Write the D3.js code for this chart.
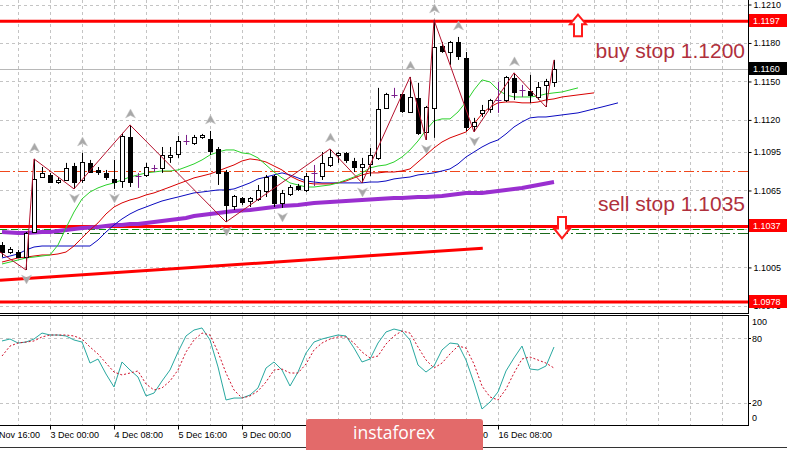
<!DOCTYPE html>
<html><head><meta charset="utf-8">
<script src="https://cdn.jsdelivr.net/npm/d3@7"></script>
<style>body{margin:0;background:#fff;} svg{display:block;}</style>
</head><body>
<script>
// ---------------- DATA ----------------
const openP = [1.10225,1.10170,1.10170,1.10131,1.10326,1.10755,1.10771,1.10716,1.10732,1.10841,
1.10732,1.10865,1.10810,1.10787,1.10740,1.10724,1.11067,1.10763,1.10771,1.10826,
1.10826,1.10911,1.10935,1.11036,1.11021,1.11067,1.11052,1.10974,1.10794,1.10529,
1.10592,1.10568,1.10584,1.10646,1.10763,1.10553,1.10623,1.10685,1.10654,1.10787,
1.10763,1.10849,1.10927,1.10943,1.10880,1.10833,1.10857,1.10904,1.11294,1.11395,
1.11403,1.11262,1.11372,1.11106,1.11294,1.11777,1.11730,1.11808,1.11684,1.11153,
1.11255,1.11286,1.11356,1.11356,1.11528,1.11434,1.11426,1.11379,1.11473,1.11496];
const highP = [1.10248,1.10209,1.10186,1.10326,1.10896,1.10833,1.10787,1.10755,1.10865,1.10865,
1.10943,1.10888,1.10833,1.10810,1.10888,1.11099,1.11161,1.10787,1.10865,1.10849,
1.10989,1.10989,1.11075,1.11083,1.11083,1.11091,1.11114,1.10989,1.10810,1.10615,
1.10599,1.10599,1.10693,1.10771,1.10771,1.10654,1.10693,1.10701,1.10787,1.10849,
1.10950,1.10974,1.10950,1.10950,1.10904,1.10904,1.10982,1.11450,1.11411,1.11450,
1.11411,1.11535,1.11489,1.11309,1.11980,1.11808,1.11816,1.11847,1.11730,1.11216,
1.11317,1.11364,1.11496,1.11543,1.11567,1.11473,1.11551,1.11496,1.11520,1.11668];
const lowP = [1.10131,1.10155,1.10124,1.10030,1.10319,1.10748,1.10709,1.10701,1.10724,1.10662,
1.10709,1.10787,1.10771,1.10732,1.10662,1.10670,1.10677,1.10670,1.10755,1.10794,
1.10787,1.10865,1.10904,1.11005,1.11005,1.11052,1.10927,1.10693,1.10404,1.10498,
1.10537,1.10521,1.10568,1.10599,1.10521,1.10514,1.10607,1.10646,1.10638,1.10685,
1.10732,1.10833,1.10865,1.10865,1.10794,1.10709,1.10763,1.10888,1.11286,1.11372,
1.11255,1.11255,1.11083,1.11044,1.11060,1.11723,1.11629,1.11668,1.11114,1.11106,
1.11223,1.11255,1.11255,1.11340,1.11356,1.11379,1.11333,1.11356,1.11301,1.11457];
const closeP = [1.10170,1.10194,1.10131,1.10319,1.10740,1.10787,1.10716,1.10732,1.10826,1.10716,
1.10872,1.10794,1.10794,1.10755,1.10716,1.11075,1.10716,1.10763,1.10833,1.10826,
1.10927,1.10927,1.11036,1.11036,1.11067,1.11083,1.10958,1.10787,1.10537,1.10607,
1.10560,1.10592,1.10654,1.10755,1.10553,1.10631,1.10677,1.10662,1.10763,1.10787,
1.10865,1.10911,1.10943,1.10888,1.10833,1.10857,1.10927,1.11286,1.11403,1.11395,
1.11270,1.11379,1.11099,1.11301,1.11769,1.11738,1.11808,1.11699,1.11145,1.11184,
1.11278,1.11356,1.11356,1.11535,1.11418,1.11434,1.11395,1.11457,1.11504,1.11600];

// Alligator (shifted forward): lips 3 bars, teeth 5 bars, jaw 8 bars
const lipsMA = [1.10077,1.10092,1.10108,1.10124,1.10131,1.10139,1.10147,1.10225,1.10358,1.10482,
1.10584,1.10638,1.10670,1.10693,1.10709,1.10732,1.10755,1.10771,1.10787,1.10794,
1.10802,1.10802,1.10810,1.10833,1.10857,1.10888,1.10927,1.10950,1.10966,1.10966,
1.10943,1.10935,1.10904,1.10849,1.10794,1.10748,1.10709,1.10693,1.10677,1.10677,
1.10685,1.10693,1.10709,1.10732,1.10755,1.10787,1.10826,1.10841,1.10849,1.10872,
1.10911,1.10966,1.11036,1.11122,1.11192,1.11208,1.11208,1.11262,1.11340,1.11434,
1.11512,1.11496,1.11434,1.11395,1.11379,1.11379,1.11379,1.11387,1.11403,1.11411,
1.11418,1.11434,1.11450];
const teethMA = [1.10092,1.10108,1.10124,1.10131,1.10139,1.10147,1.10147,1.10155,1.10170,1.10217,
1.10280,1.10342,1.10397,1.10467,1.10521,1.10553,1.10576,1.10592,1.10615,1.10631,
1.10654,1.10677,1.10701,1.10724,1.10748,1.10763,1.10779,1.10802,1.10826,1.10849,
1.10880,1.10896,1.10888,1.10872,1.10841,1.10810,1.10763,1.10732,1.10709,1.10701,
1.10701,1.10701,1.10709,1.10724,1.10748,1.10771,1.10787,1.10787,1.10794,1.10794,
1.10802,1.10818,1.10872,1.10927,1.10982,1.11028,1.11060,1.11083,1.11106,1.11169,
1.11247,1.11301,1.11333,1.11340,1.11340,1.11333,1.11333,1.11340,1.11356,1.11364,
1.11379,1.11387,1.11395,1.11403,1.11411];
const jawMA = [1.10124,1.10139,1.10155,1.10186,1.10209,1.10217,1.10217,1.10217,1.10217,1.10217,
1.10217,1.10217,1.10264,1.10326,1.10381,1.10428,1.10467,1.10498,1.10521,1.10545,
1.10568,1.10584,1.10599,1.10615,1.10631,1.10638,1.10646,1.10654,1.10654,1.10662,
1.10685,1.10709,1.10740,1.10755,1.10771,1.10787,1.10771,1.10748,1.10724,1.10716,
1.10709,1.10709,1.10709,1.10709,1.10709,1.10709,1.10716,1.10716,1.10724,1.10740,
1.10748,1.10755,1.10771,1.10779,1.10787,1.10802,1.10818,1.10857,1.10911,1.10950,
1.10989,1.11021,1.11044,1.11091,1.11145,1.11184,1.11216,1.11223,1.11223,1.11231,
1.11239,1.11247,1.11255,1.11270,1.11286,1.11301,1.11317,1.11333];
const slowMA = [1.10326,1.10322,1.10319,1.10319,1.10322,1.10326,1.10326,1.10334,1.10342,1.10350,
1.10358,1.10361,1.10365,1.10373,1.10381,1.10381,1.10389,1.10389,1.10397,1.10404,
1.10412,1.10420,1.10428,1.10436,1.10451,1.10459,1.10467,1.10475,1.10482,1.10490,
1.10494,1.10498,1.10506,1.10514,1.10521,1.10529,1.10533,1.10537,1.10545,1.10553,
1.10557,1.10560,1.10564,1.10568,1.10572,1.10576,1.10580,1.10584,1.10588,1.10592,
1.10592,1.10596,1.10599,1.10599,1.10603,1.10607,1.10615,1.10623,1.10631,1.10631,
1.10631,1.10638,1.10646,1.10654,1.10662,1.10670,1.10681,1.10693,1.10705,1.10716];

// ZigZag turning points: [bar index, price]
const zigzagPts = [[-0.25,1.10170],[3,1.10030],[4,1.10896],[9,1.10662],[16,1.11161],[28,1.10404],
[41,1.10974],[45,1.10709],[51,1.11535],[53,1.11044],[54,1.11980],[59,1.11106],[64,1.11567],[68,1.11301],[69,1.11668]];
const fractalUp = [4,10,16,26,41,51,54,57,64];
const fractalDown = [3,9,14,28,35,45,53,59];

// Stochastic
const stochMain = [77.6,79.4,75.7,76.6,79.4,84.9,83.1,83.1,82.2,78.5,
76.6,57.2,60.9,47.1,35.1,58.2,50.8,44.3,26.8,29.5,
40.6,50.8,67.4,82.2,87.7,89.6,78.5,53.6,23.1,24.9,
24.9,27.7,34.2,52.6,58.2,50.8,36.0,48.9,66.5,76.6,
79.4,81.3,83.1,82.2,71.1,58.2,60.9,75.7,85.9,88.6,
86.8,78.5,55.4,48.9,54.5,69.3,75.7,74.8,60.0,38.8,
14.8,21.2,30.5,49.9,61.9,72.9,51.7,50.8,54.5,72.0];
const stochSignal = [63.7,72.9,75.7,76.6,77.6,81.3,83.1,83.1,83.1,82.2,
79.4,72.0,65.6,57.2,48.9,46.2,48.0,49.9,37.9,32.3,
34.2,40.6,50.8,67.4,78.5,84.9,83.1,67.4,48.0,32.3,
24.9,26.8,31.4,39.7,50.8,51.7,48.0,48.0,56.3,69.3,
75.7,79.4,81.3,81.3,75.7,67.4,61.9,63.7,74.8,82.2,
86.8,84.9,72.0,60.0,52.6,57.2,65.6,72.9,71.1,56.3,
36.0,25.9,23.1,33.2,48.0,60.9,62.8,60.0,57.2,52.6];
const stochLevels = [80, 20];
const stochTickLabels = [100, 80, 20, 0];

// levels
const supportResistance = [1.1197, 1.1037, 1.0978];
const currentPrice = 1.1160;
const pivotLevel = 1.1080;
const orderLines = [1.1035, 1.1032];
const trendLine = [[-0.25, 1.0995], [60.1, 1.1020]];
const buyStopArrow = [72, 1.1197];
const sellStopArrow = [70, 1.1037];
const notes = ["buy stop 1.1200", "sell stop 1.1035"];

const priceTicks = [1.1210, 1.1180, 1.1150, 1.1120, 1.1095, 1.1065, 1.1035, 1.1005, 1.0975];
const timeTickIndex = [-2, 6, 14, 22, 30, 54, 62];
const timeTickLabels = ["29 Nov 16:00", "3 Dec 00:00", "4 Dec 08:00", "5 Dec 16:00", "9 Dec 00:00",
  "13 Dec 00:00", "16 Dec 08:00"];

// ---------------- CHART ----------------
const W = 787, H = 450, PR = 748;
const FONT = "'Liberation Sans', Arial, sans-serif";
const svg = d3.select("body").append("svg").attr("width", W).attr("height", H);
svg.append("rect").attr("width", W).attr("height", H).attr("fill", "#fff");

const x = d3.scaleLinear().domain([0, 1]).range([2, 10]);
const y = d3.scaleLinear().domain([1.0975, 1.1210]).range([305.9, 4.5]);
const ys = d3.scaleLinear().domain([0, 100]).range([425, 316.7]);
const px = v => Math.round(x(v)) + 0.5;

const defs = svg.append("defs");
defs.append("clipPath").attr("id", "cm").append("rect").attr("x", 0).attr("y", 0).attr("width", PR).attr("height", 313);
defs.append("clipPath").attr("id", "cs").append("rect").attr("x", 0).attr("y", 316).attr("width", PR).attr("height", 109);
const main = svg.append("g").attr("clip-path", "url(#cm)");
const sub = svg.append("g").attr("clip-path", "url(#cs)");

const gridIdx = d3.range(2, 94, 4);
const gridStyle = s => s.attr("stroke", "#c4c4c4").attr("stroke-width", 1).attr("stroke-dasharray", "3,3");
main.selectAll(".vg").data(gridIdx).join("line").attr("x1", px).attr("x2", px).attr("y1", 0).attr("y2", 313).call(gridStyle);
main.selectAll(".hg").data(priceTicks).join("line").attr("x1", 0).attr("x2", PR)
  .attr("y1", d => Math.round(y(d)) + 0.5).attr("y2", d => Math.round(y(d)) + 0.5).call(gridStyle);
sub.selectAll(".vg").data(gridIdx).join("line").attr("x1", px).attr("x2", px).attr("y1", 316).attr("y2", 425).call(gridStyle);
sub.selectAll(".hg").data(stochLevels).join("line").attr("x1", 0).attr("x2", PR)
  .attr("y1", d => Math.round(ys(d)) + 0.5).attr("y2", d => Math.round(ys(d)) + 0.5).call(gridStyle);

// horizontal lines
const hy = d => Math.round(y(d)) + 0.5;
main.append("line").attr("x1", 0).attr("x2", PR).attr("y1", hy(currentPrice)).attr("y2", hy(currentPrice))
  .attr("stroke", "#b8b8b8").attr("stroke-width", 1);
main.append("line").attr("x1", 0).attr("x2", PR).attr("y1", hy(pivotLevel)).attr("y2", hy(pivotLevel))
  .attr("stroke", "#f0481c").attr("stroke-width", 1).attr("stroke-dasharray", "10,3,2,3");
main.selectAll(".ol").data(orderLines).join("line").attr("x1", 0).attr("x2", PR)
  .attr("y1", hy).attr("y2", hy).attr("stroke", (d, i) => i === 0 ? "#0a9a0a" : "#1a6a1a")
  .attr("stroke-width", 1).attr("stroke-dasharray", (d, i) => i === 0 ? "7,4" : "10,3,2,3");
main.selectAll(".sr").data(supportResistance).join("line").attr("x1", 0).attr("x2", PR)
  .attr("y1", d => y(d)).attr("y2", d => y(d)).attr("stroke", "#ff0000").attr("stroke-width", 3);
main.append("line").attr("x1", x(trendLine[0][0])).attr("y1", y(trendLine[0][1]))
  .attr("x2", x(trendLine[1][0])).attr("y2", y(trendLine[1][1])).attr("stroke", "#ff0000").attr("stroke-width", 3);

// slow MA (thick purple)
const lineGen = d3.line().x((d, i) => x(i)).y(d => y(d));
main.append("path").attr("d", lineGen(slowMA)).attr("fill", "none").attr("stroke", "#9a2fd0").attr("stroke-width", 4);
// alligator
main.append("path").attr("d", lineGen(jawMA)).attr("fill", "none").attr("stroke", "#0a0ac0").attr("stroke-width", 1);
main.append("path").attr("d", lineGen(teethMA)).attr("fill", "none").attr("stroke", "#d80000").attr("stroke-width", 1);
main.append("path").attr("d", lineGen(lipsMA)).attr("fill", "none").attr("stroke", "#2ad12a").attr("stroke-width", 1);

// candles
const cg = main.append("g");
d3.range(openP.length).forEach(i => {
  const cx = px(i), o = openP[i], c = closeP[i], h = highP[i], l = lowP[i];
  if (o === c) {
    cg.append("line").attr("x1", cx).attr("x2", cx).attr("y1", y(h)).attr("y2", y(l)).attr("stroke", "#7b1f8c");
    cg.append("line").attr("x1", cx - 3).attr("x2", cx + 3).attr("y1", hy(o)).attr("y2", hy(o)).attr("stroke", "#7b1f8c");
  } else {
    cg.append("line").attr("x1", cx).attr("x2", cx).attr("y1", y(h)).attr("y2", y(l)).attr("stroke", "#000");
    const top = Math.round(y(Math.max(o, c))) + 0.5, bot = Math.round(y(Math.min(o, c))) + 0.5;
    cg.append("rect").attr("x", cx - 2).attr("y", top).attr("width", 4).attr("height", Math.max(1, bot - top))
      .attr("fill", c > o ? "#fff" : "#000").attr("stroke", "#000").attr("stroke-width", 1);
  }
});

// zigzag
main.append("path").attr("d", d3.line().x(d => x(d[0])).y(d => y(d[1]))(zigzagPts))
  .attr("fill", "none").attr("stroke", "#b5122e").attr("stroke-width", 1);

// fractal arrows
const upArrow = "M0,-5L5,4L0,1.5L-5,4Z", downArrow = "M0,5L5,-4L0,-1.5L-5,-4Z";
main.selectAll(".fu").data(fractalUp).join("path").attr("d", upArrow)
  .attr("transform", d => `translate(${px(d)},${y(highP[d]) - 11})`).attr("fill", "#a8a8a8").attr("stroke", "#c8c8c8").attr("stroke-width", 0.5);
main.selectAll(".fd").data(fractalDown).join("path").attr("d", downArrow)
  .attr("transform", d => `translate(${px(d)},${y(lowP[d]) + 9})`).attr("fill", "#a8a8a8").attr("stroke", "#c8c8c8").attr("stroke-width", 0.5);

// stop-order arrows (hollow red)
const ua = main.append("g").attr("transform", `translate(${x(buyStopArrow[0])},${y(buyStopArrow[1])})`);
ua.append("path").attr("d", "M0,-6.5L8,3L4,3L4,15L-4,15L-4,3L-8,3Z").attr("fill", "#fff").attr("stroke", "#ff1a1a").attr("stroke-width", 2);
const da = main.append("g").attr("transform", `translate(${x(sellStopArrow[0])},${y(sellStopArrow[1])})`);
da.append("path").attr("d", "M0,12L8,2L4,2L4,-9.5L-4,-9.5L-4,2L-8,2Z").attr("fill", "#fff").attr("stroke", "#ff1a1a").attr("stroke-width", 2);

// notes
main.append("text").attr("x", 745).attr("y", 57.5).attr("text-anchor", "end").attr("font-family", FONT)
  .attr("font-size", 21).attr("fill", "#b0303c").text(notes[0]);
main.append("text").attr("x", 745).attr("y", 211).attr("text-anchor", "end").attr("font-family", FONT)
  .attr("font-size", 21).attr("fill", "#b0303c").text(notes[1]);

// stochastic
const sLine = d3.line().x((d, i) => x(i)).y(d => ys(d));
sub.append("path").attr("d", sLine(stochMain)).attr("fill", "none").attr("stroke", "#28a8a0").attr("stroke-width", 1);
sub.append("path").attr("d", sLine(stochSignal)).attr("fill", "none").attr("stroke", "#d0102a").attr("stroke-width", 1).attr("stroke-dasharray", "2,2");

// frames
const frame = svg.append("g").attr("stroke", "#000").attr("stroke-width", 1);
frame.append("line").attr("x1", PR + 0.5).attr("x2", PR + 0.5).attr("y1", 0).attr("y2", 314);
frame.append("line").attr("x1", PR + 0.5).attr("x2", PR + 0.5).attr("y1", 315).attr("y2", 426);
frame.append("line").attr("x1", 0).attr("x2", PR + 1).attr("y1", 313.5).attr("y2", 313.5);
frame.append("line").attr("x1", 0).attr("x2", PR + 1).attr("y1", 315.5).attr("y2", 315.5);
frame.append("line").attr("x1", 0).attr("x2", PR + 1).attr("y1", 425.5).attr("y2", 425.5);
svg.append("line").attr("x1", 0).attr("x2", W).attr("y1", 447.5).attr("y2", 447.5).attr("stroke", "#333");

// price axis
const yAxis = svg.append("g").attr("transform", `translate(${PR + 0.5},0)`)
  .call(d3.axisRight(y).tickValues(priceTicks).tickFormat(d3.format(".4f")).tickSize(3).tickPadding(2));
yAxis.select(".domain").remove();
yAxis.selectAll("text").attr("font-family", FONT).attr("font-size", 9).attr("fill", "#000");

// stochastic axis labels
const sAx = svg.append("g");
sAx.selectAll("text").data(stochTickLabels).join("text").attr("x", 752)
  .attr("y", d => Math.min(418, Math.max(322, ys(d)))).attr("dy", "0.35em")
  .attr("font-family", FONT).attr("font-size", 9).attr("fill", "#000").text(d => d);
sAx.selectAll("line").data(stochLevels).join("line").attr("x1", PR).attr("x2", PR + 3)
  .attr("y1", d => Math.round(ys(d)) + 0.5).attr("y2", d => Math.round(ys(d)) + 0.5).attr("stroke", "#000");

// time axis
const xAxis = svg.append("g").attr("transform", "translate(0,425.5)")
  .call(d3.axisBottom(x).tickValues(timeTickIndex).tickFormat((d, i) => timeTickLabels[i]).tickSize(4).tickPadding(2));
xAxis.select(".domain").remove();
xAxis.selectAll(".tick").attr("transform", d => `translate(${px(d)},0)`);
xAxis.selectAll("text").attr("text-anchor", "start").attr("x", 0).attr("font-family", FONT).attr("font-size", 9).attr("fill", "#000");

// price tags
const tags = svg.append("g");
const tagData = supportResistance.map(v => ({v, c: "#ff0000"})).concat([{v: currentPrice, c: "#000"}]);
tagData.forEach(t => {
  const cy = Math.round(y(t.v));
  tags.append("rect").attr("x", PR + 1).attr("y", cy - 7).attr("width", W - PR - 1).attr("height", 13).attr("fill", t.c);
  tags.append("text").attr("x", 753).attr("y", cy).attr("dy", "0.35em").attr("font-family", FONT)
    .attr("font-size", 9).attr("fill", "#fff").text(d3.format(".4f")(t.v));
});

// watermark logo
const logo = svg.append("g");
logo.append("rect").attr("x", 306).attr("y", 419).attr("width", 177).attr("height", 36).attr("rx", 3).attr("fill", "#e36a6a");
logo.append("text").attr("x", 394).attr("y", 439).attr("text-anchor", "middle").attr("font-family", "'Open Sans', sans-serif")
  .attr("font-size", 17.5).attr("fill", "#fff").text("instaforex");
</script>
</body></html>
